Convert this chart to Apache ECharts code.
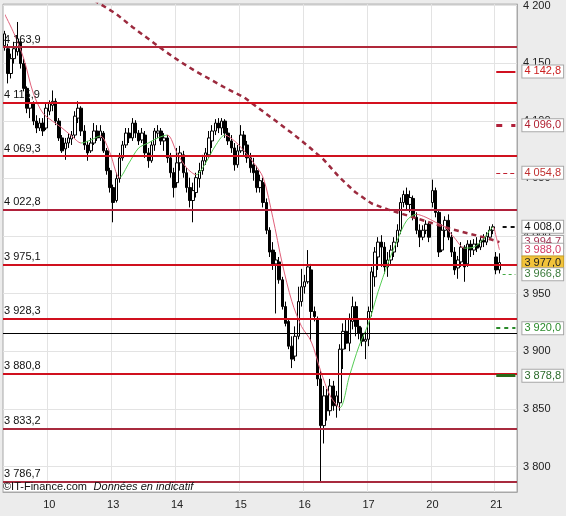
<!DOCTYPE html>
<html><head><meta charset="utf-8">
<script src="https://cdn.jsdelivr.net/npm/echarts@6/dist/echarts.min.js"></script>
<style>html,body{margin:0;padding:0;background:#ececec}#c{width:566px;height:516px}</style>
</head><body><div id="c"></div>
<script>
// ---------- DATA ----------
const dayLabels = ['10', '13', '14', '15', '16', '17', '20', '21'];
const dayStartIndex = [14, 34, 54, 74, 94, 114, 134, 154];
const slotCount = 161; // candle slots incl. the empty right margin

// [open, close, low, high]
const ohlc = [
[4165.1,4175.4,4160.8,4178.0],[4162.5,4141.0,4132.4,4166.8],[4141.0,4153.9,4136.7,4158.2],[4153.9,4162.5,4149.6,4168.5],
[4159.9,4171.1,4156.5,4185.7],[4168.5,4149.6,4145.3,4171.1],[4149.6,4128.1,4125.5,4153.9],[4128.1,4110.9,4106.6,4129.8],
[4110.9,4115.2,4102.3,4119.5],[4115.2,4099.7,4096.2,4116.9],[4099.7,4093.7,4089.3,4104.8],[4093.7,4098.0,4091.1,4102.3],
[4098.0,4091.1,4086.8,4102.3],[4093.7,4110.9,4091.9,4115.2],[4108.3,4115.2,4104.8,4117.7],[4113.4,4116.9,4108.3,4126.3],
[4116.9,4099.7,4096.2,4119.5],[4099.7,4085.1,4082.5,4102.3],[4085.1,4073.9,4072.1,4087.6],[4075.6,4080.7,4066.1,4085.1],
[4080.7,4085.1,4076.4,4089.3],[4084.2,4087.6,4079.0,4091.1],[4087.6,4104.0,4085.1,4108.3],[4102.3,4110.9,4098.0,4116.9],
[4110.9,4091.1,4086.8,4112.6],[4091.1,4079.0,4074.7,4096.2],[4079.0,4072.1,4065.3,4082.5],[4073.9,4080.7,4072.1,4085.1],
[4080.7,4091.1,4079.0,4098.0],[4091.1,4085.1,4082.5,4096.2],[4085.1,4091.1,4082.5,4096.2],[4089.3,4073.9,4072.1,4091.1],
[4073.9,4056.7,4053.2,4076.4],[4056.7,4042.0,4037.7,4059.2],[4042.0,4029.1,4011.9,4044.6],[4030.8,4049.8,4029.1,4054.9],
[4049.8,4067.8,4046.3,4072.1],[4067.8,4079.0,4065.3,4082.5],[4079.0,4089.3,4076.4,4093.7],[4089.3,4085.1,4080.7,4093.7],
[4085.1,4098.0,4082.5,4102.3],[4098.0,4089.3,4085.1,4100.5],[4089.3,4082.5,4079.0,4091.9],[4083.3,4089.3,4080.7,4093.7],
[4087.6,4072.1,4067.8,4091.1],[4072.1,4065.3,4059.2,4076.4],[4065.3,4079.0,4063.5,4082.5],[4079.0,4091.1,4073.9,4093.7],
[4089.3,4091.1,4085.1,4096.2],[4091.1,4082.5,4079.0,4093.7],[4082.5,4085.1,4073.9,4089.3],[4085.1,4067.8,4063.5,4087.6],
[4067.8,4054.9,4050.6,4072.1],[4054.9,4042.0,4033.4,4059.2],[4046.3,4063.5,4042.0,4076.4],[4063.5,4072.1,4056.7,4078.2],
[4070.4,4054.9,4050.6,4073.9],[4054.9,4042.0,4037.7,4059.2],[4042.0,4030.8,4024.8,4050.6],[4030.8,4039.4,4011.9,4046.3],
[4037.7,4050.6,4033.4,4054.9],[4049.8,4056.7,4042.0,4063.5],[4056.7,4065.3,4053.2,4070.4],[4065.3,4072.1,4061.8,4076.4],
[4070.4,4085.1,4067.8,4091.1],[4082.5,4091.1,4076.4,4096.2],[4091.1,4098.0,4087.6,4101.4],[4098.0,4093.7,4089.3,4102.3],
[4093.7,4099.7,4087.6,4102.3],[4099.7,4089.3,4085.1,4101.4],[4089.3,4082.5,4079.0,4093.7],[4082.5,4076.4,4072.1,4087.6],
[4076.4,4061.8,4056.7,4080.7],[4061.8,4073.9,4059.2,4079.0],[4073.9,4087.6,4072.1,4096.2],[4087.6,4079.0,4070.4,4091.1],
[4079.0,4067.8,4063.5,4082.5],[4067.8,4059.2,4054.9,4072.1],[4061.8,4054.9,4048.0,4067.8],[4056.7,4042.0,4037.7,4060.9],
[4042.0,4048.0,4037.7,4053.2],[4046.3,4029.1,4024.8,4050.6],[4029.1,4005.0,4001.6,4032.6],[4005.0,3986.1,3981.8,4007.6],
[3987.8,3975.8,3970.6,3994.7],[3975.8,3979.2,3932.8,3986.1],[3977.5,3962.0,3958.6,3981.8],[3962.0,3938.8,3936.2,3964.6],
[3938.8,3924.2,3921.6,3943.1],[3925.9,3904.4,3901.8,3927.6],[3904.4,3893.2,3885.4,3913.0],[3895.8,3913.0,3891.5,3921.6],
[3913.0,3943.1,3910.4,3956.0],[3943.1,3956.0,3938.8,3971.5],[3956.0,3960.3,3950.0,3966.3],[3960.3,3973.2,3958.6,3987.8],
[3970.6,3934.5,3908.7,3975.8],[3934.5,3930.2,3925.9,3938.8],[3927.6,3876.0,3869.9,3930.2],[3876.0,3835.5,3786.7,3882.9],
[3835.5,3861.3,3820.0,3869.9],[3861.3,3848.4,3839.8,3867.4],[3848.4,3869.9,3844.1,3876.0],[3869.9,3852.7,3848.4,3874.3],
[3852.7,3861.3,3842.4,3865.6],[3855.3,3901.8,3848.4,3906.1],[3901.8,3917.3,3884.6,3924.2],[3917.3,3907.0,3901.8,3927.6],
[3907.0,3927.6,3900.1,3932.8],[3925.9,3938.8,3919.0,3947.4],[3938.8,3921.6,3913.0,3943.1],[3921.6,3915.5,3910.4,3927.6],
[3915.5,3908.7,3904.4,3920.7],[3908.7,3910.4,3893.2,3917.3],[3910.4,3934.5,3904.4,3938.8],[3934.5,3968.9,3930.2,3973.2],
[3964.6,3986.1,3956.0,3990.4],[3981.8,3994.7,3970.6,3999.0],[3994.7,3990.4,3973.2,4000.7],[3990.4,3973.2,3967.2,3994.7],
[3973.2,3979.2,3964.6,3986.1],[3979.2,3987.8,3975.8,3992.1],[3986.1,3994.7,3981.8,3999.0],[3994.7,4005.0,3990.4,4010.2],
[4005.0,4029.1,4001.6,4033.4],[4029.1,4036.0,4024.8,4039.4],[4036.0,4027.4,4022.2,4042.0],[4027.4,4033.4,4020.5,4039.4],
[4032.6,4016.2,4013.6,4035.1],[4016.2,4005.0,4001.6,4020.5],[4005.0,3999.0,3990.4,4010.2],[3999.0,4005.0,3996.4,4009.3],
[4005.0,4010.2,4001.6,4013.6],[4010.2,3999.0,3994.7,4011.9],[4029.1,4039.4,4024.8,4048.9],[4039.4,4020.5,4016.2,4042.0],
[4020.5,3986.1,3981.8,4022.2],[3987.8,4005.0,3986.1,4010.2],[4005.0,4013.6,3999.0,4017.1],[4013.6,3999.0,3996.4,4018.8],
[3999.0,3986.1,3981.8,4003.3],[3986.1,3970.6,3966.3,3990.4],[3972.3,3979.2,3962.9,3982.7],[3977.5,3990.4,3973.2,3994.7],
[3990.4,3973.2,3960.3,3992.1],[3975.8,3993.0,3973.2,3996.4],[3993.0,3987.8,3981.8,3996.4],[3987.8,3993.0,3983.5,3997.3],
[3993.0,3989.5,3986.1,3999.0],[3990.4,3996.4,3987.8,3999.9],[3996.4,3994.7,3990.4,4001.6],[3994.7,3999.9,3992.1,4003.3],
[3999.0,4005.0,3996.4,4008.5],[4005.0,4008.0,4001.6,4010.2],[3981.8,3970.6,3966.8,3986.1],[3970.6,3977.0,3967.5,3985.0]
];

// slow moving average (dashed), sampled
const slowMAIndex = [28,30,35,40,45,50,55,60,65,70,75,80,85,90,95,100,105,110,115,120,125,130,135,140,145,150,155];
const slowMAValue = [4204.6,4201.2,4192.6,4181.4,4171.1,4160.8,4151.3,4142.7,4135.0,4127.2,4120.3,4110.0,4099.7,4089.3,4078.2,4066.1,4050.6,4037.7,4028.2,4023.1,4018.8,4014.5,4010.2,4005.9,4002.4,3999.0,3994.7];

// fast moving average (green rising / pink falling), sampled
const fastMAIndex = [0,3,6,9,12,15,18,21,24,27,30,33,36,39,42,45,48,51,54,57,60,63,66,69,72,75,78,81,84,87,90,93,96,99,102,105,108,111,114,117,120,123,126,129,132,135,138,141,144,147,150,153,154,155];
const fastMAValue = [4192.6,4175.4,4153.9,4123.8,4106.6,4099.7,4093.7,4086.8,4080.7,4083.3,4086.8,4072.1,4050.6,4063.5,4076.4,4080.7,4085.1,4087.6,4072.1,4059.2,4053.2,4063.5,4078.2,4087.6,4082.5,4073.9,4063.5,4050.6,4016.2,3975.8,3943.1,3921.6,3908.7,3882.9,3861.3,3851.0,3878.5,3904.4,3924.2,3951.7,3975.8,3996.4,4013.6,4018.8,4016.2,4011.9,4007.6,3998.1,3989.5,3990.4,3997.3,4007.6,3999.0,3988.0];
const fastMARisingFrom = [24, 36, 60, 105, 144];
const fastMARisingTo   = [30, 51, 69, 129, 153];

// horizontal levels
const levelValues = [4163.9, 4115.9, 4069.3, 4022.8, 3975.1, 3928.3, 3880.8, 3833.2, 3786.7];
const refLineValue = 3915.3;

// right-side indicator values
const markerValues = [4142.8, 4096.0, 4054.8, 4008.0, 3994.7, 3988.0, 3977.0, 3966.8, 3920.0, 3878.8];

// y axis ticks
const yTickValues = [3800, 3850, 3900, 3950, 4000, 4050, 4100, 4150, 4200];
const yMin = 3777.9, yMax = 4201.2;

// ---------- helpers ----------
function fmtThousands(s) { return s.replace(/\B(?=(\d{3})+$)/g, ' '); }
function fmt1(v) { const p = v.toFixed(1).split('.'); return fmtThousands(p[0]) + ',' + p[1]; }

const FONT = "'Liberation Sans', Arial, sans-serif";
const categories = [];
for (let i = 0; i < slotCount; i++) categories.push(String(i));
const dayLabelAt = {};
dayStartIndex.forEach((d, k) => { dayLabelAt[d] = dayLabels[k]; });

const levelColors = ['#b0283a', '#d4101e', '#d0121f', '#b0203a', '#d0101e', '#d0101e', '#d0101e', '#a82a3e', '#a82a3e'];

const clear = 'rgba(255,255,255,0)';
const markerStyles = [
  { line: { color: '#d01020', width: 2, type: 'solid' }, text: '#cc2020' },
  { line: { color: '#b0203a', width: 3, type: [6, 9] }, text: '#b02030' },
  { line: { color: '#c02030', width: 1, type: [4, 3] }, text: '#c03030' },
  { line: { color: '#111', width: 2, type: [4, 4] }, text: '#111', start: 156 },
  { line: { color: clear, width: 1, type: 'solid' }, text: '#a03050' },
  { line: { color: clear, width: 1, type: 'solid' }, text: '#d03c64' },
  { line: { color: clear, width: 1, type: 'solid' }, text: '#222', bg: '#f2c33a', border: '#c9a02a' },
  { line: { color: '#44aa44', width: 1, type: [3, 3] }, text: '#3a7a3a', start: 156 },
  { line: { color: '#2a8a2a', width: 2, type: [4, 4] }, text: '#2a8a2a' },
  { line: { color: '#2a6a1a', width: 3, type: 'solid' }, text: '#2a6a2a' }
];

const levelMarks = levelValues.map((v, k) => ({
  yAxis: v,
  lineStyle: { color: levelColors[k], width: 2, type: 'solid' },
  label: { show: true, position: 'insideStartTop', distance: [1, 2], formatter: fmt1(v), color: '#111', fontSize: 11, fontFamily: FONT }
}));
levelMarks.push({ yAxis: refLineValue, lineStyle: { color: '#000', width: 1, type: 'solid' }, label: { show: false } });

const rightMarks = markerValues.map((v, k) => {
  const st = markerStyles[k];
  return [
    {
      coord: [st.start || 154, v],
      lineStyle: st.line,
      label: {
        show: true, position: 'end', distance: 7, formatter: fmt1(v),
        color: st.text, fontSize: 11, fontFamily: FONT,
        backgroundColor: st.bg || '#fff', borderColor: st.border || '#a8a8a8', borderWidth: 1,
        padding: [1, 2, 0, 2]
      }
    },
    { coord: [slotCount - 1, v] }
  ];
});

const pink = '#e0607a', green = '#55cc55';
const pieces = [];
let cur = 0;
fastMARisingFrom.forEach((a, k) => {
  pieces.push({ gte: cur, lt: a, color: pink });
  pieces.push({ gte: a, lt: fastMARisingTo[k], color: green });
  cur = fastMARisingTo[k];
});
pieces.push({ gte: cur, lte: slotCount, color: pink });

const chart = echarts.init(document.getElementById('c'), null, { renderer: 'canvas' });
chart.setOption({
  animation: false,
  backgroundColor: '#ececec',
  grid: { left: 3, right: 49, top: 0, bottom: 24, show: true, backgroundColor: '#ffffff', borderColor: '#a8a8a8', borderWidth: 1 },
  xAxis: {
    type: 'category', data: categories, boundaryGap: true,
    axisLine: { show: true, lineStyle: { color: '#a8a8a8' } },
    axisTick: { show: false },
    axisLabel: {
      interval: (i) => dayLabelAt[i] !== undefined,
      formatter: (val, i) => dayLabelAt[i] || '',
      color: '#222', fontSize: 11, fontFamily: FONT, margin: 7
    },
    splitLine: { show: true, interval: (i) => dayLabelAt[i] !== undefined, lineStyle: { color: '#e3e3e3', width: 1 } }
  },
  yAxis: {
    type: 'value', position: 'right', min: yMin, max: yMax,
    axisLine: { show: true, lineStyle: { color: '#a8a8a8' } },
    axisTick: { show: false, customValues: yTickValues },
    axisLabel: { customValues: yTickValues, formatter: (v) => fmtThousands(String(Math.round(v))), color: '#222', fontSize: 11, fontFamily: FONT, margin: 6 },
    splitLine: { show: true, lineStyle: { color: '#e3e3e3', width: 1 } }
  },
  visualMap: {
    show: false, type: 'piecewise', seriesIndex: 2, dimension: 0, pieces: pieces
  },
  series: [
    {
      type: 'candlestick', data: ohlc, barWidth: 3,
      itemStyle: { color: '#ffffff', color0: '#000000', borderColor: '#000000', borderColor0: '#000000', borderWidth: 1 },
      markLine: { silent: true, symbol: ['none', 'none'], animation: false, data: levelMarks.concat(rightMarks) }
    },
    {
      type: 'line', data: slowMAIndex.map((x, k) => [x, slowMAValue[k]]), showSymbol: false, z: 3,
      lineStyle: { color: '#9c2a3e', width: 2.5, type: [5, 4] }
    },
    {
      type: 'line', data: fastMAIndex.map((x, k) => [x, fastMAValue[k]]), showSymbol: false, smooth: 0.3, z: 3,
      lineStyle: { width: 1 }
    }
  ],
  graphic: [{
    type: 'text', left: 3, top: 481, z: 100,
    style: {
      text: '{a|©IT-Finance.com}  {b|Données en indicatif}',
      rich: {
        a: { fontSize: 11, fontFamily: FONT, fill: '#111' },
        b: { fontSize: 11, fontFamily: FONT, fontStyle: 'italic', fill: '#111' }
      }
    }
  }]
});
</script>
</body></html>
